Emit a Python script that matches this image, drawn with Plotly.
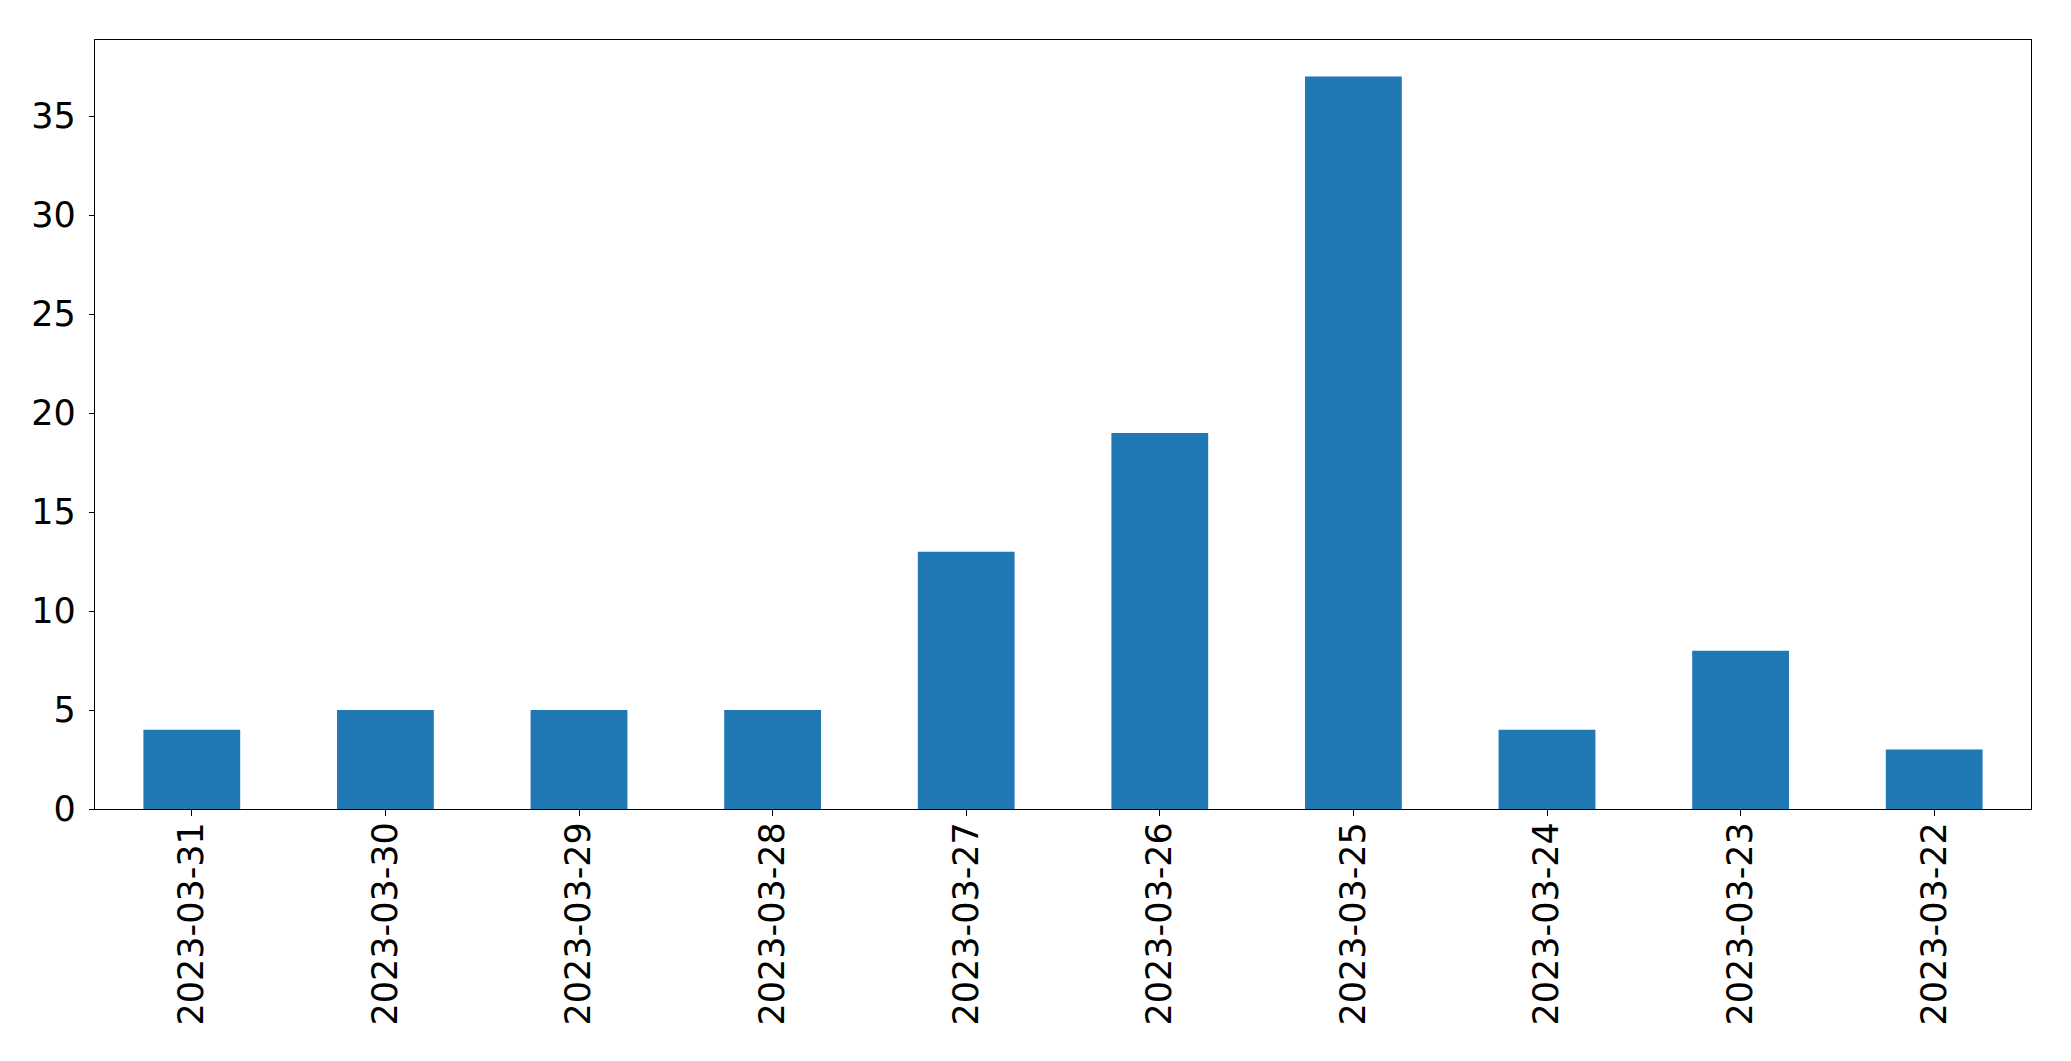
import plotly.graph_objects as go

dates = ["2023-03-31", "2023-03-30", "2023-03-29", "2023-03-28", "2023-03-27",
         "2023-03-26", "2023-03-25", "2023-03-24", "2023-03-23", "2023-03-22"]
counts = [4, 5, 5, 5, 13, 19, 37, 4, 8, 3]

fig = go.Figure(go.Bar(x=dates, y=counts, width=0.5, marker=dict(color="#1f77b4", line=dict(width=0))))

font = dict(family="DejaVu Sans", size=35, color="black")
fig.update_layout(
    width=2071, height=1061, autosize=False,
    margin=dict(l=94.5, r=39.5, t=39.5, b=252, pad=0),
    plot_bgcolor="white", paper_bgcolor="white",
    showlegend=False, font=font,
    bargap=0.5,
)
fig.update_xaxes(type="category", range=[-0.5, 9.5], tickangle=-90, ticks="outside",
                 ticklen=6, tickwidth=1.3, tickcolor="black", showline=True, linewidth=1.3,
                 linecolor="black", mirror=True, showgrid=False, tickfont=font, ticklabelstandoff=-8)
fig.update_yaxes(range=[0, 38.85], tickvals=[0, 5, 10, 15, 20, 25, 30, 35], ticks="outside",
                 ticklen=5, tickwidth=1.3, tickcolor="black", showline=True, linewidth=1.3,
                 linecolor="black", mirror=True, showgrid=False, zeroline=False, tickfont=font,
                 ticklabelstandoff=6)
fig.write_html("out.html")
